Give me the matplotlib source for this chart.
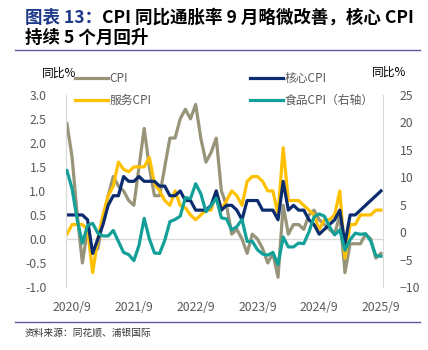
import matplotlib
matplotlib.use("Agg")
import matplotlib.pyplot as plt
from matplotlib.lines import Line2D

plt.rcParams['font.family'] = ['Noto Sans CJK SC', 'DejaVu Sans']

# monthly data, 2020/8 .. 2025/9
cpi = [2.4, 1.7, 0.5, -0.5, 0.2,
       -0.3, -0.2, 0.4, 0.9, 1.3, 1.1, 1.0, 0.8, 0.7, 1.5, 2.3, 1.5,
       0.9, 0.9, 1.5, 2.1, 2.1, 2.5, 2.7, 2.5, 2.8, 2.1, 1.6, 1.8,
       2.1, 1.0, 0.7, 0.1, 0.2, 0.0, -0.3, 0.1, 0.0, -0.2, -0.5, -0.3,
       -0.8, 0.7, 0.1, 0.3, 0.3, 0.2, 0.5, 0.6, 0.4, 0.3, 0.2, 0.1,
       0.5, -0.7, -0.1, -0.1, -0.1, 0.1, 0.0, -0.4, -0.3]
core_cpi = [0.5, 0.5, 0.5, 0.5, 0.4,
            -0.3, 0.0, 0.3, 0.7, 0.9, 0.9, 1.3, 1.2, 1.2, 1.3, 1.2, 1.2,
            1.2, 1.1, 1.1, 0.9, 0.9, 1.0, 0.8, 0.8, 0.6, 0.6, 0.6, 0.7,
            1.0, 0.6, 0.7, 0.7, 0.6, 0.4, 0.8, 0.8, 0.8, 0.6, 0.6, 0.6,
            0.4, 1.2, 0.6, 0.7, 0.6, 0.6, 0.4, 0.3, 0.1, 0.2, 0.3, 0.4,
            0.6, -0.1, 0.5, 0.5, 0.6, 0.7, 0.8, 0.9, 1.0]
service_cpi = [0.1, 0.3, 0.3, 0.3, 0.2,
               -0.7, 0.0, 0.5, 0.9, 1.1, 1.6, 1.45, 1.4, 1.5, 1.5, 1.5, 1.7,
               1.15, 1.0, 0.8, 0.7, 1.0, 0.7, 0.65, 0.5, 0.4, 0.5, 0.6, 0.6,
               1.0, 0.6, 0.8, 1.0, 0.9, 0.7, 1.2, 1.3, 1.3, 1.2, 1.0, 1.0,
               0.5, 1.9, 0.8, 0.8, 0.8, 0.7, 0.6, 0.5, 0.2, 0.4, 0.4, 0.5,
               1.0, -0.4, 0.3, 0.3, 0.5, 0.5, 0.5, 0.6, 0.6]
food_cpi = [11.2, 7.9, 2.2, -2.0, 1.2,
            1.6, -0.2, -0.7, -0.7, 0.3, -1.7, -3.7, -4.1, -5.2, -2.4, 2.5, -1.2,
            -3.8, -3.9, -1.5, 1.9, 2.3, 2.9, 6.3, 6.1, 8.8, 7.0, 3.7, 4.8,
            6.2, 2.6, 2.4, 0.4, 1.0, 2.3, -1.7, -1.7, -3.2, -4.0, -4.2, -3.7,
            -5.9, -0.9, -2.7, -2.7, -2.0, -2.1, 0.0, 2.8, 3.3, 2.9, 1.0, -0.5,
            0.4, -3.3, -1.4, -0.2, -0.4, -0.3, -1.6, -4.3, -4.4]
tick_pos = [1, 13, 25, 37, 49, 61]
tick_labels = ["2020/9", "2021/9", "2022/9", "2023/9", "2024/9", "2025/9"]

x = list(range(len(cpi)))
gray_txt = '#595959'

fig = plt.figure(figsize=(4.28, 3.5), dpi=100)
ax = fig.add_axes([0.154, 0.18, 0.741, 0.549])
ax2 = ax.twinx()

l1, = ax.plot(x, cpi, color='#979479', lw=2.3, label='CPI')
l3, = ax.plot(x, service_cpi, color='#FFC000', lw=2.3, label='服务CPI')
l2, = ax.plot(x, core_cpi, color='#0B2C6E', lw=2.3, label='核心CPI')
l4, = ax2.plot(x, food_cpi, color='#12A099', lw=2.3, label='食品CPI（右轴）')

ax.axhline(0, color='#D9D9D9', lw=1, zorder=0)

ax.set_xlim(-0.2, 61.4)
ax.set_ylim(-1.0, 3.0)
ax2.set_ylim(-10, 25)
ax.set_yticks([-1.0, -0.5, 0.0, 0.5, 1.0, 1.5, 2.0, 2.5, 3.0])
ax.set_yticklabels(["%.1f" % v for v in ax.get_yticks()])
ax2.set_yticks(range(-10, 30, 5))
ax.set_xticks(tick_pos)
ax.set_xticklabels(tick_labels)

for a in (ax, ax2):
    for s in a.spines.values():
        s.set_visible(False)
    a.tick_params(length=0, labelsize=8.8, labelcolor=gray_txt)
ax.spines['left'].set_visible(True)
ax.spines['left'].set_color('#D9D9D9')
ax2.spines['right'].set_visible(True)
ax2.spines['right'].set_color('#D9D9D9')
ax.tick_params(axis='y', pad=14)
ax2.tick_params(axis='y', pad=12)
ax.tick_params(axis='x', pad=10)

fig.text(0.098, 0.79, "同比%", fontsize=8.5, color='black', va='center')
fig.text(0.869, 0.793, "同比%", fontsize=8.5, color='black', va='center')

leg = ax.legend(handles=[l1, l3, l2, l4], ncol=2, loc='upper left',
                bbox_to_anchor=(75 / 428, 1 - 72 / 350), bbox_transform=fig.transFigure,
                frameon=False, fontsize=8.5, handlelength=2.8, handletextpad=0.15,
                columnspacing=8.3, labelspacing=0.75, borderaxespad=0, borderpad=0)
for t in leg.get_texts():
    t.set_color(gray_txt)

# title
t1 = fig.text(25 / 428, 1 - 23 / 350, "图表 13：", fontsize=12.6, fontweight='bold',
              color='#1F3A8A', va='baseline')
ax.annotate("CPI 同比通胀率 9 月略微改善，核心 CPI", xy=(1, 0), xycoords=t1,
            fontsize=12.6, fontweight='bold', color='black', va='bottom',
            annotation_clip=False)
fig.text(25 / 428, 1 - 43 / 350, "持续 5 个月回升", fontsize=12.6, fontweight='bold',
         color='black', va='baseline')

fig.add_artist(Line2D([15 / 428, 420 / 428], [1 - 50 / 350, 1 - 50 / 350],
                      transform=fig.transFigure, color='#5A5A96', lw=1))
fig.add_artist(Line2D([15 / 428, 420 / 428], [1 - 322 / 350, 1 - 322 / 350],
                      transform=fig.transFigure, color='#5A5A96', lw=1))
fig.text(25 / 428, 1 - 333 / 350, "资料来源：同花顺、浦银国际", fontsize=7,
         color='#333333', va='center')

plt.savefig("out.png", dpi=100)
